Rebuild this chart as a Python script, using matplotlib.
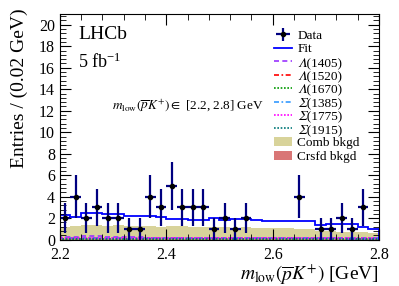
import numpy as np
import matplotlib
matplotlib.use('Agg')
import matplotlib.pyplot as plt
from matplotlib.ticker import MultipleLocator

plt.rcParams['font.family'] = ['Liberation Serif', 'STIXGeneral']
plt.rcParams['mathtext.fontset'] = 'stix'

# Данные: границы бинов и число событий
bin_edges = np.round(np.arange(2.20, 2.801, 0.02), 2)
bin_centers = (bin_edges[:-1] + bin_edges[1:]) / 2
counts = [2, 4, 2, 3, 2, 2, 1, 1, 4, 3, 5, 3, 3, 3, 1,
          2, 1, 2, 0, 0, 0, 0, 4, 0, 1, 1, 2, 1, 3, 0]

# Полная подгонка (по бинам)
fit = [2.3, 2.1, 2.5, 2.5, 2.4, 2.4, 2.2, 2.2, 2.2, 2.1, 1.95, 1.95, 1.85, 1.85, 2.05,
       1.85, 1.9, 1.95, 1.8, 1.75, 1.75, 1.75, 1.72, 1.7, 1.35, 1.45, 1.45, 1.45, 1.2, 1.0]

# Комбинаторный фон
comb = [1.2, 1.25, 1.35, 1.35, 1.3, 1.35, 1.3, 1.3, 1.25, 1.2, 1.25, 1.3, 1.2, 1.15, 1.2,
        1.15, 1.1, 1.15, 1.1, 1.05, 1.1, 1.05, 1.0, 1.0, 0.8, 0.8, 0.75, 0.75, 0.7, 0.6]

# Перекрестный фон
crsfd = [0.05] * 30

# Резонансные компоненты
lam1405 = [0.25, 0.25, 0.3, 0.3, 0.25, 0.25, 0.25, 0.25, 0.2, 0.2, 0.2, 0.2, 0.2, 0.2, 0.2,
           0.2, 0.2, 0.2, 0.15, 0.15, 0.15, 0.15, 0.15, 0.15, 0.15, 0.15, 0.15, 0.1, 0.1, 0.1]
lam1520 = [0.15] * 15 + [0.12] * 15
lam1670 = [0.1] * 30
sig1385 = [0.2] * 10 + [0.18] * 10 + [0.15] * 10
sig1775 = [0.12] * 30
sig1915 = [0.08] * 30

components = [
    (lam1405, '\U0001D6EC(1405)', '#9933ff', (0, (3, 2))),
    (lam1520, '\U0001D6EC(1520)', '#ff0000', (0, (3, 1.5, 1, 1.5))),
    (lam1670, '\U0001D6EC(1670)', '#009900', (0, (1, 1))),
    (sig1385, '\U0001D6F4(1385)', '#3399ff', (0, (3, 1.5, 1, 1.5))),
    (sig1775, '\U0001D6F4(1775)', '#ff00ff', (0, (1, 1))),
    (sig1915, '\U0001D6F4(1915)', '#007777', (0, (1, 1))),
]

fig = plt.figure(figsize=(3.99, 2.86), dpi=100)
ax = fig.add_axes([0.150, 0.162, 0.800, 0.789])

# Фон
ax.stairs(comb, bin_edges, fill=True, color='#d8d39a', label='Comb bkgd')
ax.stairs(crsfd, bin_edges, fill=True, color='#d97676', label='Crsfd bkgd')

# Компоненты
for vals, lab, col, ls in components:
    ax.stairs(vals, bin_edges, color=col, linestyle=ls, linewidth=1.2, label=lab)

# Подгонка
ax.stairs(fit, bin_edges, color='#0000ff', linewidth=1.3, label='Fit')

# Точки данных (нулевые бины не рисуются)
counts = np.array(counts)
mask = counts > 0
err = np.sqrt(counts[mask])
ax.errorbar(bin_centers[mask], counts[mask], yerr=err, xerr=0.01,
            fmt='o', color='black', ecolor='#000080', elinewidth=1.6,
            markersize=3, capsize=0, label='Data')

ax.set_xlim(2.2, 2.8)
ax.set_ylim(0, 21)
ax.xaxis.set_major_locator(MultipleLocator(0.2))
ax.xaxis.set_minor_locator(MultipleLocator(0.04))
ax.yaxis.set_major_locator(MultipleLocator(2))
ax.yaxis.set_minor_locator(MultipleLocator(0.4))
ax.tick_params(which='both', direction='in', top=True, right=True, labelsize=11.5)
ax.tick_params(which='major', length=8)
ax.tick_params(which='minor', length=4)
ax.tick_params(axis='x', pad=5)

ax.set_xlabel(r'$m_{\mathrm{low}}(\overline{p}K^{+})$ [GeV]', fontsize=14, ha='right')
ax.xaxis.set_label_coords(1.0, -0.10)
ax.set_ylabel('Entries / (0.02 GeV)', fontsize=14, ha='right')
ax.yaxis.set_label_coords(-0.10, 1.027)

ax.text(0.057, 0.945, 'LHCb', transform=ax.transAxes, fontsize=14, va='top')
ax.text(0.057, 0.83, r'5 fb$^{\mathregular{-1}}$', transform=ax.transAxes, fontsize=13, va='top')
ax.text(0.163, 0.595, r'$m_{\mathrm{low}}(\overline{p}K^{+}) \in$ [2.2, 2.8] GeV',
        transform=ax.transAxes, fontsize=9.5, va='center')

handles, labels = ax.get_legend_handles_labels()
order = ['Data', 'Fit'] + [c[1] for c in components] + ['Comb bkgd', 'Crsfd bkgd']
hmap = dict(zip(labels, handles))
ax.legend([hmap[k] for k in order], order, loc='upper left', frameon=False,
          prop={'family': ['Liberation Serif', 'STIXGeneral'], 'size': 9.5},
          handlelength=1.4, labelspacing=0.09, handletextpad=0.4,
          borderaxespad=0.0, borderpad=0.0, bbox_to_anchor=(0.67, 0.93))

fig.savefig('out.png', dpi=100)
